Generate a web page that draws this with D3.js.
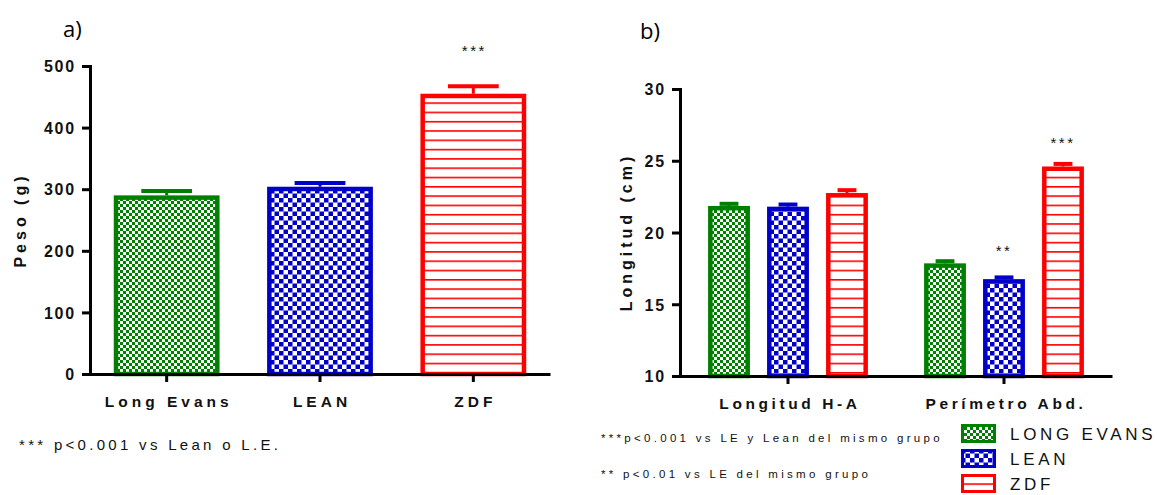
<!DOCTYPE html>
<html>
<head>
<meta charset="utf-8">
<script src="https://cdn.jsdelivr.net/npm/d3@7"></script>
<style>
  body { margin: 0; background: #fff; }
  svg text { font-family: "Liberation Sans", Arial, sans-serif; fill: #111; }
  .tick-lbl { font-weight: bold; font-size: 16px; letter-spacing: 1.8px; }
  .cat-lbl { font-weight: bold; font-size: 15.5px; letter-spacing: 4px; }
  .cat-lbl-b { font-weight: bold; font-size: 15.5px; letter-spacing: 3.6px; }
  .ax-title { font-weight: bold; font-size: 16px; letter-spacing: 4px; }
  .panel-lbl { font-family: "Open Sans", "DejaVu Sans", sans-serif; font-size: 22px; fill: #000; }
</style>
</head>
<body>
<svg id="chart" width="1157" height="495"></svg>
<script>
// ---- data ----
var pesoGroups = ["Long Evans", "LEAN", "ZDF"];
var pesoMean = [290, 304, 455];
var pesoSem = [7, 6, 12];
var pesoTicks = [0, 100, 200, 300, 400, 500];
var pesoStars = ["", "", "***"];
var pesoStarLevel = 531;

var longCategories = ["Longitud H-A", "Perímetro Abd."];
var strains = ["LONG EVANS", "LEAN", "ZDF"];
var longEvansCm = [21.85, 17.85];
var leanCm = [21.8, 16.75];
var zdfCm = [22.75, 24.6];
var longEvansSem = [0.15, 0.15];
var leanSem = [0.15, 0.12];
var zdfSem = [0.2, 0.18];
var longTicks = [10, 15, 20, 25, 30];
var longStars = [["", "", ""], ["", "**", "***"]];
var longStarLevel = [0, 19, 26.5];

var colors = ["#008000", "#0000c8", "#ff0000"];
var patternIds = ["pat-green", "pat-blue", "pat-red"];

var svg = d3.select("#chart");
var defs = svg.append("defs");

// green fine checker
var pg = defs.append("pattern").attr("id", "pat-green").attr("patternUnits", "userSpaceOnUse")
	.attr("width", 6).attr("height", 6);
pg.append("rect").attr("width", 6).attr("height", 6).attr("fill", "#fff");
pg.append("rect").attr("width", 3).attr("height", 3).attr("fill", colors[0]);
pg.append("rect").attr("x", 3).attr("y", 3).attr("width", 3).attr("height", 3).attr("fill", colors[0]);

// blue coarse checker
var pb = defs.append("pattern").attr("id", "pat-blue").attr("patternUnits", "userSpaceOnUse")
	.attr("width", 9).attr("height", 9);
pb.append("rect").attr("width", 9).attr("height", 9).attr("fill", "#fff");
pb.append("rect").attr("width", 4.5).attr("height", 4.5).attr("fill", colors[1]);
pb.append("rect").attr("x", 4.5).attr("y", 4.5).attr("width", 4.5).attr("height", 4.5).attr("fill", colors[1]);

// red horizontal lines
var pr = defs.append("pattern").attr("id", "pat-red").attr("patternUnits", "userSpaceOnUse")
	.attr("width", 10).attr("height", 9.3);
pr.append("rect").attr("width", 10).attr("height", 9.3).attr("fill", "#fff");
pr.append("rect").attr("y", 0).attr("width", 10).attr("height", 1.6).attr("fill", colors[2]);

var BW = 4.5;   // bar outline width

function drawBar(g, x, w, yTop, yBase, i) {
	g.append("rect")
		.attr("x", x + BW/2).attr("y", yTop + BW/2)
		.attr("width", w - BW).attr("height", yBase - yTop - BW/2)
		.attr("fill", "url(#" + patternIds[i] + ")")
		.attr("stroke", colors[i]).attr("stroke-width", BW);
}

function drawErr(g, cx, capW, yTop, yCap, i) {
	g.append("line").attr("x1", cx).attr("x2", cx).attr("y1", yTop).attr("y2", yCap)
		.attr("stroke", colors[i]).attr("stroke-width", 3);
	g.append("line").attr("x1", cx - capW/2).attr("x2", cx + capW/2).attr("y1", yCap).attr("y2", yCap)
		.attr("stroke", colors[i]).attr("stroke-width", 4);
}

function styleAxis(sel) {
	sel.select(".domain").attr("stroke", "#000").attr("stroke-width", 3);
	sel.selectAll(".tick line").attr("stroke", "#000").attr("stroke-width", 3);
}

function stars(g, x, y, txt) {
	g.append("text").attr("x", x).attr("y", y + 9)
		.attr("text-anchor", "middle").style("font-size", "15px").style("letter-spacing", "2.5px")
		.text(txt);
}

// ================= panel a =================
var ya = d3.scaleLinear().domain([0, 500]).range([374, 66]);
var xa = d3.scaleBand().domain(pesoGroups).range([90, 550]).paddingInner(0.31).paddingOuter(0.155);

var ga = svg.append("g");
pesoGroups.forEach(function (name, i) {
	var x = xa(name), w = xa.bandwidth();
	drawBar(ga, x, w, ya(pesoMean[i]), ya(0), i);
	drawErr(ga, x + w/2, w * 0.48, ya(pesoMean[i]), ya(pesoMean[i] + pesoSem[i]), i);
	if (pesoStars[i]) stars(ga, x + w/2 + 1, ya(pesoStarLevel), pesoStars[i]);
});

var yAxA = ga.append("g").attr("transform", "translate(90,0)")
	.call(d3.axisLeft(ya).tickValues(pesoTicks).tickSize(8).tickPadding(6).tickFormat(d3.format("d")));
styleAxis(yAxA);
yAxA.selectAll(".tick text").attr("class", "tick-lbl").attr("dy", "0.36em");

var xAxA = ga.append("g").attr("transform", "translate(0,374)")
	.call(d3.axisBottom(xa).tickSize(8).tickSizeOuter(0).tickPadding(14));
styleAxis(xAxA);
xAxA.selectAll(".tick text").attr("class", "cat-lbl").attr("dy", "0.71em").attr("dx", "2px");

ga.append("text").attr("class", "ax-title").attr("text-anchor", "middle")
	.attr("transform", "translate(26,220) rotate(-90)").text("Peso (g)");
ga.append("text").attr("class", "panel-lbl").attr("x", 63).attr("y", 37).text("a)");
ga.append("text").attr("x", 19).attr("y", 450).style("font-size", "15px").style("letter-spacing", "3.3px")
	.text("*** p<0.001 vs Lean o L.E.");

// ================= panel b =================
var yb = d3.scaleLinear().domain([10, 30]).range([376, 89]);
var x0 = d3.scaleBand().domain(longCategories).range([680, 1112]).paddingInner(0.26).paddingOuter(0.13);
var x1 = d3.scaleBand().domain(strains).range([0, x0.bandwidth()]).paddingInner(0.29).paddingOuter(0);
var seriesB = [longEvansCm, leanCm, zdfCm];
var semB = [longEvansSem, leanSem, zdfSem];

var gb = svg.append("g");
longCategories.forEach(function (cat, c) {
	strains.forEach(function (s, i) {
		var x = x0(cat) + x1(s), w = x1.bandwidth();
		var v = seriesB[i][c];
		drawBar(gb, x, w, yb(v), yb(10), i);
		drawErr(gb, x + w/2, w * 0.45, yb(v), yb(v + semB[i][c]), i);
		if (longStars[c][i]) stars(gb, x + w/2, yb(longStarLevel[i]), longStars[c][i]);
	});
});

var yAxB = gb.append("g").attr("transform", "translate(680,0)")
	.call(d3.axisLeft(yb).tickValues(longTicks).tickSize(8).tickPadding(6).tickFormat(d3.format("d")));
styleAxis(yAxB);
yAxB.selectAll(".tick text").attr("class", "tick-lbl").attr("dy", "0.36em");

var xAxB = gb.append("g").attr("transform", "translate(0,376)")
	.call(d3.axisBottom(x0).tickSize(8).tickSizeOuter(0).tickPadding(14));
styleAxis(xAxB);
xAxB.selectAll(".tick text").attr("class", "cat-lbl-b").attr("dy", "0.71em").attr("dx", "2px");

gb.append("text").attr("class", "ax-title").attr("text-anchor", "middle")
	.attr("transform", "translate(632,232) rotate(-90)").text("Longitud (cm)");
gb.append("text").attr("class", "panel-lbl").attr("x", 640).attr("y", 39).text("b)");

gb.append("text").attr("x", 601).attr("y", 442).style("font-size", "11.5px").style("letter-spacing", "3.3px")
	.text("***p<0.001 vs LE y Lean del mismo grupo");
gb.append("text").attr("x", 601).attr("y", 478).style("font-size", "11.5px").style("letter-spacing", "3.3px")
	.text("** p<0.01 vs LE del mismo grupo");

// legend
var legend = gb.append("g").attr("transform", "translate(961,424)");
strains.forEach(function (s, i) {
	var row = legend.append("g").attr("transform", "translate(0," + (i * 25) + ")");
	row.append("rect").attr("x", 1.5).attr("y", 1.5).attr("width", 32).attr("height", 16)
		.attr("fill", "url(#" + patternIds[i] + ")").attr("stroke", colors[i]).attr("stroke-width", 3);
	row.append("text").attr("x", 49).attr("y", 10).attr("dy", "0.36em")
		.style("font-size", "17px").style("letter-spacing", "3.7px").style("fill", "#111")
		.text(s);
});
</script>
</body>
</html>
